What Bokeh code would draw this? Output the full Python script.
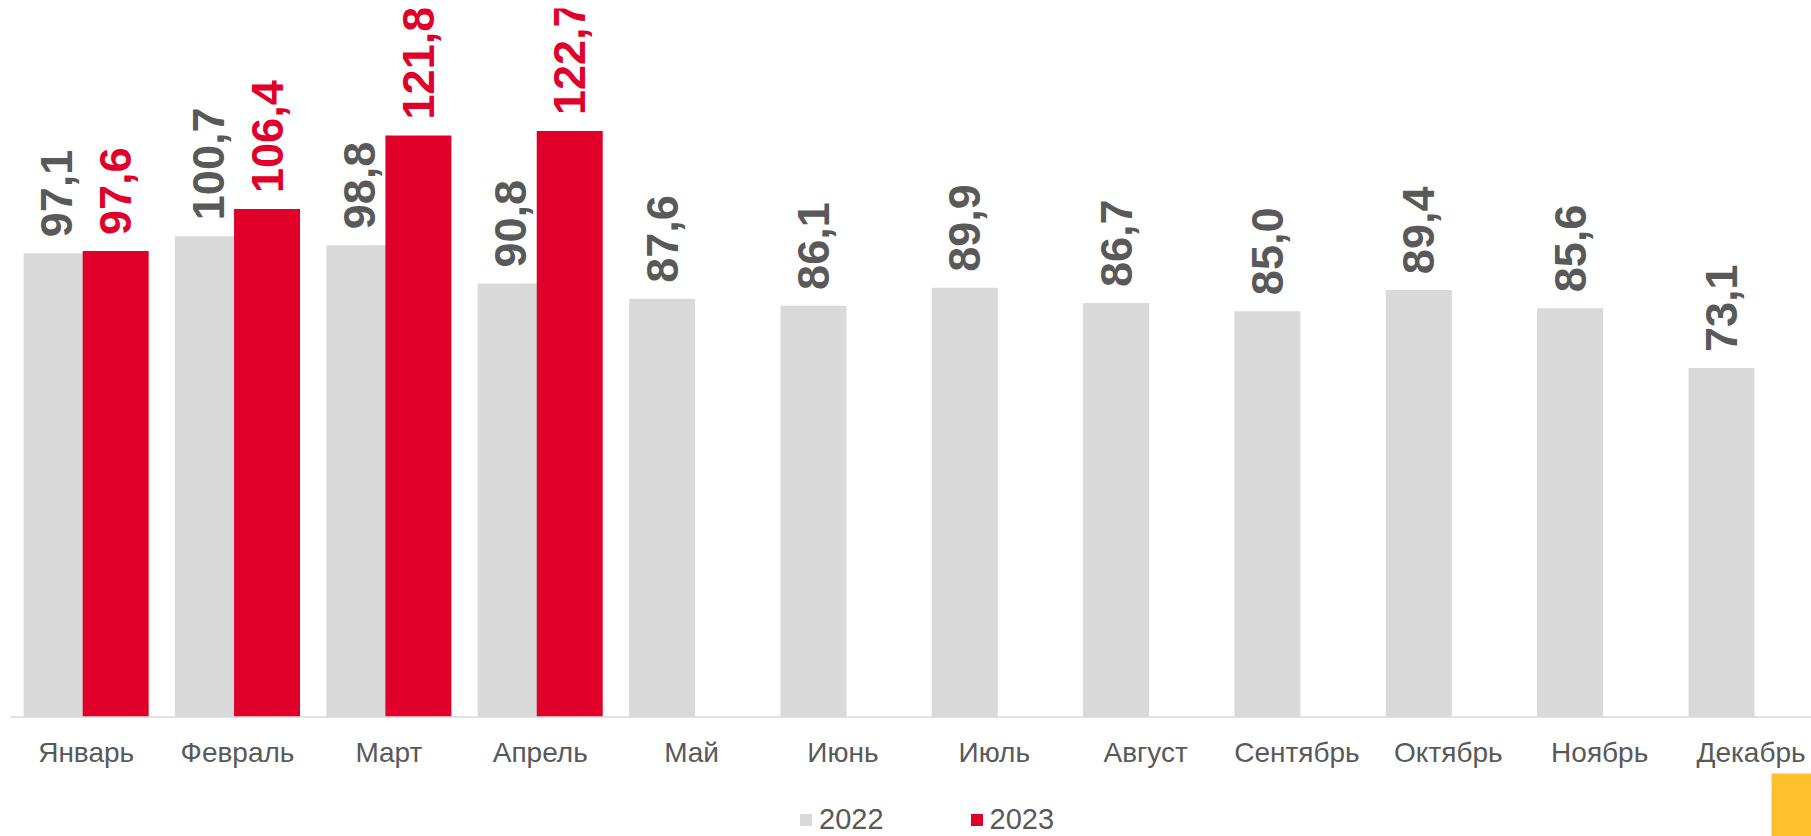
import math
from bokeh.plotting import figure
from bokeh.models import (ColumnDataSource, Range1d, LabelSet, Span,
                          Legend, LegendItem, Label)
from bokeh.core.properties import value
from bokeh.embed import file_html
from bokeh.resources import INLINE

# ---- data ----
months = ["Январь", "Февраль", "Март", "Апрель", "Май", "Июнь", "Июль",
          "Август", "Сентябрь", "Октябрь", "Ноябрь", "Декабрь"]
values_2022 = [97.1, 100.7, 98.8, 90.8, 87.6, 86.1, 89.9, 86.7, 85.0, 89.4, 85.6, 73.1]
values_2023 = [97.6, 106.4, 121.8, 122.7]
series_names = ["2022", "2023"]

GRAY = "#D9D9D9"
RED = "#E1002A"
TEXT = "#595959"
FONT = "Liberation Sans"

OFFSET = 0.195
BAR_W = 0.436
PX_PER_UNIT = 4.775
CAT_PX = 151.35


def fmt(v):
    return f"{v:.1f}".replace(".", ",")


src22 = ColumnDataSource(dict(
    x=[i + 0.5 - OFFSET for i in range(len(values_2022))],
    top=values_2022,
    label=[fmt(v) for v in values_2022],
))
src23 = ColumnDataSource(dict(
    x=[i + 0.5 + OFFSET for i in range(len(values_2023))],
    top=values_2023,
    label=[fmt(v) for v in values_2023],
))
src_cat = ColumnDataSource(dict(
    x=[i + 0.5 for i in range(len(months))],
    y=[0] * len(months),
    name=months,
))

FRAME_W, FRAME_H = 1801, 828
BASE_FROM_TOP = 708.5
p = figure(
    frame_width=FRAME_W, frame_height=FRAME_H,
    x_range=Range1d(0, FRAME_W / CAT_PX),
    y_range=Range1d(-(FRAME_H - BASE_FROM_TOP) / PX_PER_UNIT, BASE_FROM_TOP / PX_PER_UNIT),
    output_backend="svg", toolbar_location=None,
    x_axis_location=None, y_axis_location=None,
    min_border_left=10, min_border_right=0, min_border_top=8, min_border_bottom=0,
)
p.outline_line_color = None
p.xgrid.visible = False
p.ygrid.visible = False
p.background_fill_color = "white"
p.border_fill_color = "white"

r22 = p.vbar(x="x", top="top", width=BAR_W, bottom=0, source=src22,
             fill_color=GRAY, line_color=None)
r23 = p.vbar(x="x", top="top", width=BAR_W, bottom=0, source=src23,
             fill_color=RED, line_color=None)

# category axis line and labels
p.add_layout(Span(location=0, dimension="width", line_color=GRAY, line_width=1.5))
p.add_layout(LabelSet(
    x="x", y="y", text="name", source=src_cat,
    text_align="center", text_baseline="alphabetic", y_offset=-44.5,
    text_font=value(FONT), text_font_size="28px", text_color=TEXT,
))

for src, col in ((src22, TEXT), (src23, RED)):
    p.add_layout(LabelSet(
        x="x", y="top", text="label", source=src,
        angle=math.pi / 2, text_align="left", text_baseline="middle",
        y_offset=16, text_font=value(FONT), text_font_style="bold",
        text_font_size="45px", text_color=col,
    ))

legend = Legend(
    items=[LegendItem(label=series_names[0], renderers=[r22]),
           LegendItem(label=series_names[1], renderers=[r23])],
    orientation="horizontal", location=(788, 0),
    glyph_width=15, glyph_height=15, label_standoff=6, spacing=85,
    label_text_font=FONT, label_text_font_size="29px", label_text_color=TEXT,
    border_line_color=None, background_fill_alpha=0, padding=0, margin=0,
)
p.add_layout(legend, "center")

badge = Label(x=1761, y=63, x_units="screen", y_units="screen",
              text=" ", text_font_size="1px", text_align="left", text_baseline="top",
              background_fill_color="#FFC12B", padding=(20, 32))
p.add_layout(badge)

open("out.html", "w").write(file_html(p, INLINE))
